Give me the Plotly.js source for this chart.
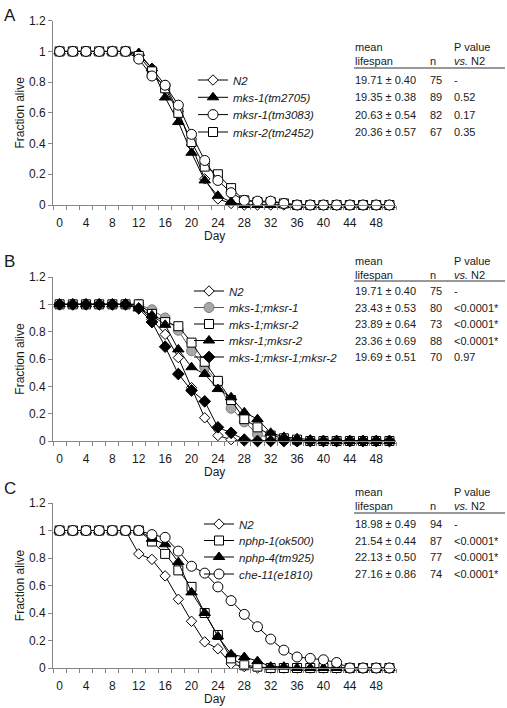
<!DOCTYPE html>
<html><head><meta charset="utf-8">
<script src="https://cdn.plot.ly/plotly-3.0.1.min.js"></script>
<style>html,body{margin:0;padding:0;background:#fff}#chart{width:507px;height:708px}</style>
</head><body><div id="chart"></div>
<script>
// ---------- data ----------
const days = [0,2,4,6,8,10,12,14,16,18,20,22,24,26,28,30,32,34,36,38,40,42,44,46,48,50];
const dayLabels = ['0','4','8','12','16','20','24','28','32','36','40','44','48'];
const dayLabelVals = [0,4,8,12,16,20,24,28,32,36,40,44,48];

// Panel A
const namesA = ['N2','mks-1(tm2705)','mksr-1(tm3083)','mksr-2(tm2452)'];
const N2_AB   = [1,1,1,1,1,1,0.98,0.89,0.78,0.61,0.39,0.17,0.04,0.01,0,0,0,0,0,0,0,0,0,0,0,0];
const A_mks1  = [1,1,1,1,1,1,0.99,0.89,0.70,0.54,0.34,0.16,0.06,0.02,0,0,0,0,0,0,0,0,0,0,0,0];
const A_mksr1 = [1,1,1,1,1,1,0.95,0.84,0.78,0.65,0.46,0.29,0.16,0.08,0.03,0.025,0.025,0.01,0,0,0,0,0,0,0,0];
const A_mksr2 = [1,1,1,1,1,1,0.97,0.87,0.76,0.60,0.41,0.25,0.20,0.11,0.03,0.02,0.02,0.01,0,0,0,0,0,0,0,0];
const meanA = [19.71,19.35,20.63,20.36];
const semA  = [0.40,0.38,0.54,0.57];
const nA    = [75,89,82,67];
const pA    = ['-','0.52','0.17','0.35'];

// Panel B
const namesB = ['N2','mks-1;mksr-1','mks-1;mksr-2','mksr-1;mksr-2','mks-1;mksr-1;mksr-2'];
const B_m1r1   = [1,1,1,1,1,1,1.00,0.96,0.90,0.81,0.66,0.54,0.43,0.24,0.14,0.05,0.02,0.01,0,0,0,0,0,0,0,0];
const B_m1r2   = [1,1,1,1,1,1,1.00,0.93,0.87,0.84,0.72,0.58,0.44,0.30,0.16,0.10,0.04,0.02,0.01,0,0,0,0,0,0,0];
const B_r1r2   = [1,1,1,1,1,1,0.97,0.92,0.85,0.67,0.54,0.49,0.38,0.32,0.21,0.16,0.06,0.03,0.02,0.01,0,0,0,0,0,0];
const B_triple = [1,1,1,1,1,1,0.97,0.87,0.69,0.49,0.37,0.29,0.10,0.06,0.01,0,0,0,0,0,0,0,0,0,0,0];
const meanB = [19.71,23.43,23.89,23.36,19.69];
const semB  = [0.40,0.53,0.64,0.69,0.51];
const nB    = [75,80,73,88,70];
const pB    = ['-','&lt;0.0001*','&lt;0.0001*','&lt;0.0001*','0.97'];

// Panel C
const namesC = ['N2','nphp-1(ok500)','nphp-4(tm925)','che-11(e1810)'];
const C_N2    = [1,1,1,1,1,1,0.83,0.79,0.67,0.50,0.34,0.19,0.14,0.03,0.01,0,0,0,0,0,0,0,0,0,0,0];
const C_nphp1 = [1,1,1,1,1,1,1.00,0.92,0.83,0.71,0.59,0.40,0.24,0.07,0.02,0.01,0,0,0,0,0,0,0,0,0,0];
const C_nphp4 = [1,1,1,1,1,1,1.00,0.94,0.90,0.77,0.55,0.40,0.23,0.10,0.08,0.05,0.01,0.01,0,0,0,0,0,0,0,0];
const C_che11 = [1,1,1,1,1,1,1.00,0.97,0.95,0.85,0.74,0.69,0.59,0.49,0.39,0.30,0.21,0.13,0.08,0.07,0.06,0.04,0,0,0,0];
const meanC = [18.98,21.54,22.13,27.16];
const semC  = [0.49,0.44,0.50,0.86];
const nC    = [94,87,77,74];
const pC    = ['-','&lt;0.0001*','&lt;0.0001*','&lt;0.0001*'];

// ---------- geometry helpers ----------
const W=507,H=708,L=53,R=111,T=20,B=40;
const pw=W-L-R, ph=H-T-B;
const fx = px => (px-L)/pw;
const fy = py => (H-B-py)/ph;
const FONT = 'Liberation Sans, Arial, sans-serif';
const AX = '#868686';

// marker styles
const S = {
  openDiamond: {symbol:'diamond', size:8, color:'#fff', line:{color:'#000',width:1}},
  blackTri:    {symbol:'triangle-up', size:10, color:'#000', line:{color:'#000',width:1}},
  openCircle:  {symbol:'circle', size:10, color:'#fff', line:{color:'#000',width:1}},
  openSquare:  {symbol:'square', size:9, color:'#fff', line:{color:'#000',width:1}},
  grayCircle:  {symbol:'circle', size:10, color:'#a8a8a8', line:{color:'#7a7a7a',width:1}},
  blackDiamond:{symbol:'diamond', size:9, color:'#000', line:{color:'#000',width:1}}
};

const traces = [];
const legendPos = []; // [textX, rowY]
function addTrace(name, ys, marker, xa, ya, textX, rowY, lineColor){
  const k = traces.length;
  traces.push({
    x: days, y: ys, name: name, type:'scatter', mode:'lines+markers',
    xaxis: xa, yaxis: ya, cliponaxis:false,
    line:{color: lineColor||'#000', width:1},
    marker: marker,
    legend: k===0 ? 'legend' : 'legend'+(k+1),
    showlegend:true
  });
  legendPos.push([textX,rowY]);
}

const rowsA = [80,97.3,114.6,132];
const rowsB = [291,307.5,324,340.5,357];
const rowsC = [524,540.5,557,574];

// Panel A (drawing order: N2, mks-1, mksr-2, mksr-1 so circles sit on top)
addTrace(namesA[0], N2_AB,  S.openDiamond, 'x','y', 233, rowsA[0]);
addTrace(namesA[1], A_mks1, S.blackTri,    'x','y', 233, rowsA[1]);
addTrace(namesA[3], A_mksr2,S.openSquare,  'x','y', 233, rowsA[3]);
addTrace(namesA[2], A_mksr1,S.openCircle,  'x','y', 233, rowsA[2]);
// Panel B
addTrace(namesB[0], N2_AB,   S.openDiamond, 'x2','y2', 229, rowsB[0]);
addTrace(namesB[1], B_m1r1,  S.grayCircle,  'x2','y2', 229, rowsB[1], '#555');
addTrace(namesB[2], B_m1r2,  S.openSquare,  'x2','y2', 229, rowsB[2]);
addTrace(namesB[3], B_r1r2,  S.blackTri,    'x2','y2', 229, rowsB[3]);
addTrace(namesB[4], B_triple,S.blackDiamond,'x2','y2', 229, rowsB[4]);
// Panel C
addTrace(namesC[0], C_N2,    S.openDiamond, 'x3','y3', 239, rowsC[0]);
addTrace(namesC[1], C_nphp1, S.openSquare,  'x3','y3', 239, rowsC[1]);
addTrace(namesC[2], C_nphp4, S.blackTri,    'x3','y3', 239, rowsC[2]);
addTrace(namesC[3], C_che11, S.openCircle,  'x3','y3', 239, rowsC[3]);

// ---------- layout ----------
const oddTicks = []; for (let v=-1; v<=51; v+=2) oddTicks.push(v);
function xAxis(anchor){
  return {
    anchor: anchor, domain:[0,1], range:[-1,51],
    showline:true, linecolor:AX, linewidth:1, showgrid:false, zeroline:false,
    tickmode:'array', tickvals: dayLabelVals, ticktext: dayLabels,
    ticks:'outside', ticklen:7, tickcolor:'rgba(0,0,0,0)',
    minor:{tickmode:'array', tickvals: oddTicks, ticks:'outside', ticklen:4, tickcolor:AX, tickwidth:1, showgrid:false},
    tickfont:{family:FONT, size:12, color:'#1a1a1a'}, fixedrange:true
  };
}
function yAxis(anchor, top, bottom){
  return {
    anchor: anchor, domain:[fy(bottom), fy(top)], range:[0,1.2],
    showline:true, linecolor:AX, linewidth:1, showgrid:false, zeroline:false,
    tickmode:'array', tickvals:[0,0.2,0.4,0.6,0.8,1,1.2], ticktext:['0','0.2','0.4','0.6','0.8','1','1.2'],
    ticks:'outside', ticklen:4, tickcolor:AX,
    tickfont:{family:FONT, size:12, color:'#1a1a1a'},
    title:{text:'Fraction alive', font:{family:FONT, size:12, color:'#1a1a1a'}, standoff:1},
    fixedrange:true
  };
}

const layout = {
  width:W, height:H, margin:{l:L, r:R, t:T, b:B},
  paper_bgcolor:'#fff', plot_bgcolor:'rgba(0,0,0,0)',
  font:{family:FONT, size:11, color:'#1a1a1a'},
  xaxis: xAxis('y'), yaxis: yAxis('x', 20.7, 205),
  xaxis2: xAxis('y2'), yaxis2: yAxis('x2', 277, 441),
  xaxis3: xAxis('y3'), yaxis3: yAxis('x3', 503, 668),
  annotations: [], shapes: []
};

// legends, one per trace, placed on the table rows
legendPos.forEach((p,k)=>{
  const key = k===0 ? 'legend' : 'legend'+(k+1);
  layout[key] = {
    x: fx(p[0]-40), y: fy(p[1]), xanchor:'left', yanchor:'middle',
    bgcolor:'rgba(0,0,0,0)', borderwidth:0, itemwidth:30,
    font:{family:FONT, size:11.5, style:'italic', color:'#1a1a1a'}
  };
});

function ann(text, px, py, opts){
  layout.annotations.push(Object.assign({
    text:text, x:fx(px), y:fy(py), xref:'paper', yref:'paper',
    xanchor:'left', yanchor:'middle', showarrow:false,
    font:{family:FONT, size:11, color:'#1a1a1a'}
  }, opts||{}));
}

function table(headTop, lineY, rows, means, sems, ns, ps){
  ann('mean', 353, headTop);
  ann('lifespan', 353, headTop+14);
  ann('n', 428, headTop+14);
  ann('P value', 452, headTop);
  ann('<i>vs.</i> N2', 452, headTop+14);
  layout.shapes.push({type:'line', xref:'paper', yref:'paper',
    x0:fx(354), x1:fx(505), y0:fy(lineY), y1:fy(lineY), line:{color:'#333', width:1}});
  rows.forEach((ry,i)=>{
    ann(means[i].toFixed(2)+' ± '+sems[i].toFixed(2), 353, ry);
    ann(String(ns[i]), 428, ry);
    ann(ps[i], 452, ry);
  });
}
table(47, 68, rowsA, meanA, semA, nA, pA);
table(261, 281, rowsB, meanB, semB, nB, pB);
table(492, 513, rowsC, meanC, semC, nC, pC);

// panel letters and x titles
[['A',15],['B',261],['C',488]].forEach(([t,py])=>{
  ann(t, 10, py, {xanchor:'center', font:{family:FONT, size:17, color:'#1a1a1a'}});
});
[236,472,699].forEach(py=>{
  ann('Day', 214, py, {xanchor:'center', font:{family:FONT, size:12, color:'#1a1a1a'}});
});

Plotly.newPlot('chart', traces, layout, {displayModeBar:false, staticPlot:true});
</script>
</body></html>
